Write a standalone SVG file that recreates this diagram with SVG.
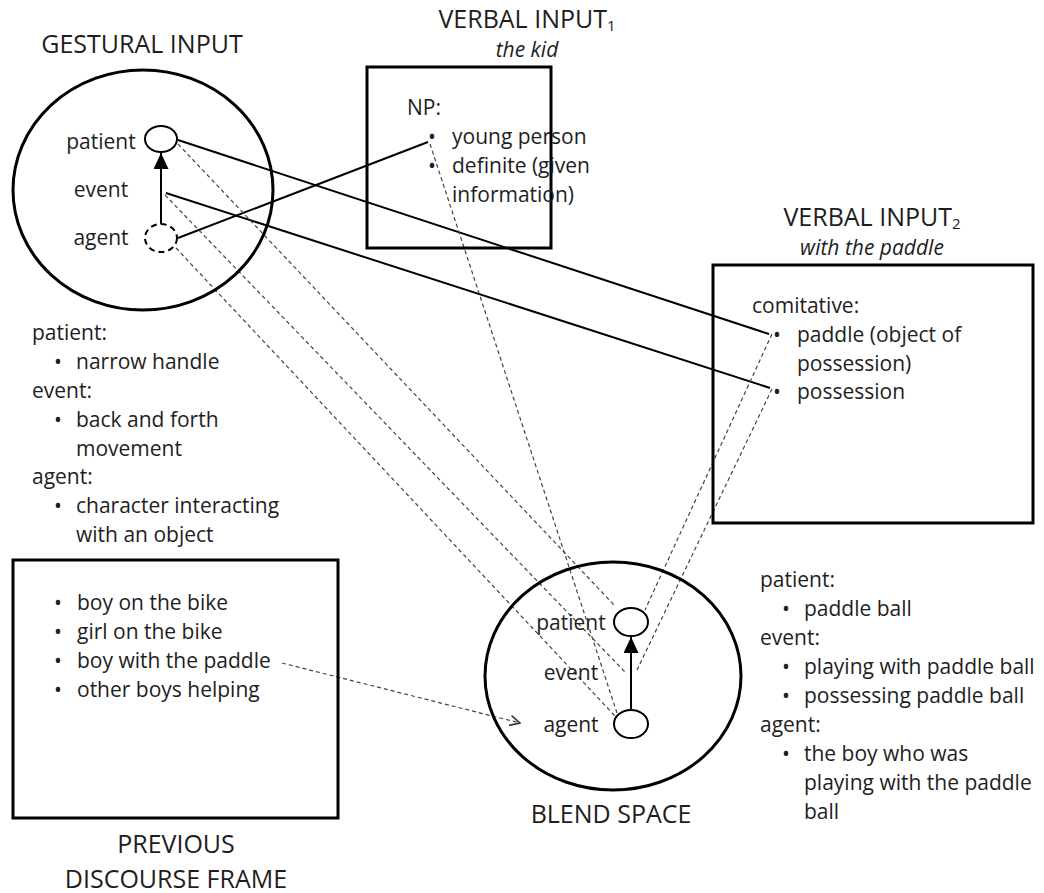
<svg xmlns="http://www.w3.org/2000/svg" width="1044" height="893" viewBox="0 0 1044 893">
  <style>
    .t { font-family: "Open Sans", "Liberation Sans", sans-serif; font-size: 21px; fill: #1e1e1e; }
    .title { font-size: 25px; }
    .sub { font-size: 15px; }
    .it { font-style: italic; }
    .mid { text-anchor: middle; }
    .space { fill: none; stroke: #000; stroke-width: 3; }
    .slot { fill: #fff; stroke: #000; stroke-width: 2; }
    .slot-open { fill: #fff; stroke: #000; stroke-width: 2; stroke-dasharray: 6 4; }
    .link { fill: none; stroke: #000; stroke-width: 2; }
    .map { fill: none; stroke: #444; stroke-width: 1.2; stroke-dasharray: 4 3; }
    .role { fill: none; stroke: #000; stroke-width: 2; }
  </style>
  <defs>
    <marker id="tri" viewBox="0 0 16 15" refX="16" refY="7.5" markerWidth="16" markerHeight="15" markerUnits="userSpaceOnUse" orient="auto">
      <path d="M0,0 L16,7.5 L0,15 Z" fill="#000"/>
    </marker>
    <marker id="vee" viewBox="0 0 12 12" refX="11" refY="6" markerWidth="12" markerHeight="12" markerUnits="userSpaceOnUse" orient="auto">
      <path d="M1,1 L11,6 L1,11" fill="none" stroke="#333" stroke-width="1.6"/>
    </marker>
  </defs>
  <rect width="1044" height="893" fill="#fff"/>

  <!-- mapping lines between the spaces -->
  <g id="connectors">
    <path class="link" d="M178,140 L769,334"/>
    <path class="link" d="M166,193 L770,388"/>
    <path class="link" d="M178,238 L428,142"/>
    <path class="map" d="M178,144 L615,606"/>
    <path class="map" d="M165,195 L625,672"/>
    <path class="map" d="M176,248 L615,716"/>
    <path class="map" d="M430,144 L617,713"/>
    <path class="map" d="M772,334 L645,610"/>
    <path class="map" d="M772,389 L637,670"/>
    <path class="map" d="M282,663 L520,723" marker-end="url(#vee)"/>
  </g>

  <!-- gestural input space -->
  <g id="gestural-input">
    <text class="t title mid" x="142" y="53">GESTURAL INPUT</text>
    <ellipse class="space" cx="143" cy="190" rx="130" ry="120"/>
    <text class="t mid" x="101" y="149">patient</text>
    <text class="t mid" x="101" y="197">event</text>
    <text class="t mid" x="101" y="245">agent</text>
    <ellipse class="slot" cx="161" cy="139" rx="16" ry="13"/>
    <ellipse class="slot-open" cx="161" cy="238" rx="16" ry="14"/>
    <line class="role" x1="161" y1="224" x2="161" y2="153" marker-end="url(#tri)"/>
  </g>

  <g id="gestural-notes">
    <text class="t" x="32" y="340">patient:</text>
    <text class="t" x="54" y="369">•</text><text class="t" x="76" y="369">narrow handle</text>
    <text class="t" x="32" y="398">event:</text>
    <text class="t" x="54" y="427">•</text><text class="t" x="76" y="427">back and forth</text>
    <text class="t" x="76" y="456">movement</text>
    <text class="t" x="32" y="484">agent:</text>
    <text class="t" x="54" y="513">•</text><text class="t" x="76" y="513">character interacting</text>
    <text class="t" x="76" y="542">with an object</text>
  </g>

  <!-- verbal input 1 -->
  <g id="verbal-input-1">
    <text class="t title mid" x="527" y="28">VERBAL INPUT<tspan class="sub" dy="3">1</tspan></text>
    <text class="t it mid" x="527" y="57">the kid</text>
    <rect class="space" x="367" y="67" width="184" height="181"/>
    <text class="t" x="407" y="115">NP:</text>
    <text class="t" x="428" y="144">•</text><text class="t" x="452" y="144">young person</text>
    <text class="t" x="428" y="173">•</text><text class="t" x="452" y="173">definite (given</text>
    <text class="t" x="452" y="202">information)</text>
  </g>

  <!-- verbal input 2 -->
  <g id="verbal-input-2">
    <text class="t title mid" x="872" y="226">VERBAL INPUT<tspan class="sub" dy="3">2</tspan></text>
    <text class="t it mid" x="872" y="255">with the paddle</text>
    <rect class="space" x="713" y="265" width="320" height="258"/>
    <text class="t" x="752" y="313">comitative:</text>
    <text class="t" x="773" y="342">•</text><text class="t" x="797" y="342">paddle (object of</text>
    <text class="t" x="797" y="371">possession)</text>
    <text class="t" x="773" y="399">•</text><text class="t" x="797" y="399">possession</text>
  </g>

  <!-- previous discourse frame -->
  <g id="previous-discourse-frame">
    <rect class="space" x="13" y="560" width="325" height="258"/>
    <text class="t" x="54" y="610">•</text><text class="t" x="77" y="610">boy on the bike</text>
    <text class="t" x="54" y="639">•</text><text class="t" x="77" y="639">girl on the bike</text>
    <text class="t" x="54" y="668">•</text><text class="t" x="77" y="668">boy with the paddle</text>
    <text class="t" x="54" y="697">•</text><text class="t" x="77" y="697">other boys helping</text>
    <text class="t title mid" x="176" y="853">PREVIOUS</text>
    <text class="t title mid" x="176" y="888">DISCOURSE FRAME</text>
  </g>

  <!-- blend space -->
  <g id="blend-space">
    <ellipse class="space" cx="613" cy="676" rx="128" ry="114"/>
    <text class="t mid" x="571" y="630">patient</text>
    <text class="t mid" x="571" y="680">event</text>
    <text class="t mid" x="571" y="732">agent</text>
    <ellipse class="slot" cx="631" cy="622" rx="17" ry="14"/>
    <ellipse class="slot" cx="631" cy="724" rx="17" ry="14"/>
    <line class="role" x1="631" y1="710" x2="631" y2="637" marker-end="url(#tri)"/>
    <text class="t title mid" x="611" y="823">BLEND SPACE</text>
  </g>

  <g id="blend-notes">
    <text class="t" x="760" y="587">patient:</text>
    <text class="t" x="782" y="616">•</text><text class="t" x="804" y="616">paddle ball</text>
    <text class="t" x="760" y="645">event:</text>
    <text class="t" x="782" y="674">•</text><text class="t" x="804" y="674">playing with paddle ball</text>
    <text class="t" x="782" y="703">•</text><text class="t" x="804" y="703">possessing paddle ball</text>
    <text class="t" x="760" y="732">agent:</text>
    <text class="t" x="782" y="761">•</text><text class="t" x="804" y="761">the boy who was</text>
    <text class="t" x="804" y="790">playing with the paddle</text>
    <text class="t" x="804" y="819">ball</text>
  </g>
</svg>
